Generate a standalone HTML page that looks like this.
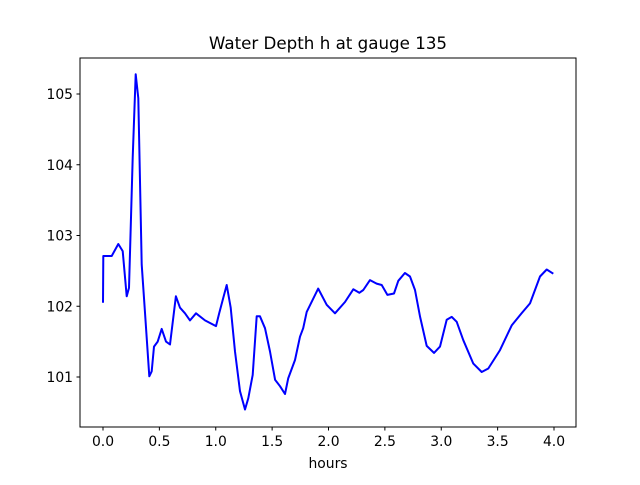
<!DOCTYPE html>
<html><head><meta charset="utf-8"><style>
body{margin:0;background:#fff;}
svg text{font-family:"DejaVu Sans","Liberation Sans",sans-serif;fill:#000;}
</style></head><body>
<svg id="chart" width="640" height="480" viewBox="0 0 640 480" xmlns="http://www.w3.org/2000/svg">
<rect x="0" y="0" width="640" height="480" fill="#fff"/>
<text x="328" y="49" font-size="16.7" text-anchor="middle">Water Depth h at gauge 135</text>
<g id="plot"></g>
<rect x="80" y="58" width="496" height="369" fill="none" stroke="#000" stroke-width="1"/>
<text x="328" y="468" font-size="13.9" text-anchor="middle">hours</text>
</svg>
<script>
const hours=[0,0.003,0.077,0.136,0.175,0.21,0.231,0.263,0.29,0.313,0.343,0.372,0.411,0.432,0.452,0.485,0.521,0.559,0.594,0.647,0.683,0.727,0.772,0.825,0.905,1.002,1.031,1.067,1.097,1.133,1.171,1.215,1.259,1.289,1.328,1.363,1.392,1.437,1.481,1.526,1.570,1.614,1.643,1.703,1.747,1.776,1.807,1.909,1.984,2.058,2.146,2.22,2.273,2.309,2.368,2.427,2.472,2.522,2.581,2.619,2.678,2.723,2.767,2.812,2.871,2.936,2.989,3.048,3.093,3.137,3.196,3.284,3.359,3.417,3.521,3.625,3.713,3.787,3.876,3.935,3.994];
const depth=[102.05,102.71,102.71,102.88,102.78,102.14,102.26,104.10,105.28,104.94,102.59,101.93,101.01,101.08,101.43,101.50,101.68,101.50,101.46,102.14,101.98,101.90,101.80,101.90,101.80,101.72,101.90,102.12,102.30,101.98,101.36,100.80,100.54,100.70,101.03,101.86,101.86,101.69,101.36,100.96,100.87,100.76,100.98,101.24,101.57,101.69,101.92,102.25,102.02,101.90,102.06,102.24,102.19,102.23,102.37,102.32,102.30,102.16,102.18,102.36,102.47,102.42,102.23,101.85,101.44,101.34,101.43,101.81,101.85,101.78,101.52,101.19,101.07,101.12,101.38,101.73,101.90,102.04,102.42,102.52,102.46];
const xTicks=[0,0.5,1,1.5,2,2.5,3,3.5,4];
const xTickLabels=["0.0","0.5","1.0","1.5","2.0","2.5","3.0","3.5","4.0"];
const yTicks=[101,102,103,104,105];
const yTickLabels=["101","102","103","104","105"];
const NS="http://www.w3.org/2000/svg";
function xs(v){return 103+v*112.75;}
function ys(v){return 94+(105-v)*70.75;}
const g=document.getElementById('plot');
xTicks.forEach((t,i)=>{
  const l=document.createElementNS(NS,'line');
  l.setAttribute('x1',xs(t));l.setAttribute('x2',xs(t));l.setAttribute('y1',427);l.setAttribute('y2',430.5);
  l.setAttribute('stroke','#000');
  
  
  g.appendChild(l);
  const tx=document.createElementNS(NS,'text');
  tx.setAttribute('x',xs(t));tx.setAttribute('y',446);tx.setAttribute('font-size','13.9');tx.setAttribute('text-anchor','middle');
  tx.textContent=xTickLabels[i];
  
  
  g.appendChild(tx);
});
yTicks.forEach((t,i)=>{
  const l=document.createElementNS(NS,'line');
  l.setAttribute('x1',76.5);l.setAttribute('x2',80);l.setAttribute('y1',ys(t));l.setAttribute('y2',ys(t));
  l.setAttribute('stroke','#000');
  
  
  g.appendChild(l);
  const tx=document.createElementNS(NS,'text');
  tx.setAttribute('x',73);tx.setAttribute('y',ys(t)+5);tx.setAttribute('font-size','13.9');tx.setAttribute('text-anchor','end');
  tx.textContent=yTickLabels[i];
  
  
  g.appendChild(tx);
});
const p=document.createElementNS(NS,'polyline');
p.setAttribute('points',hours.map((h,i)=>xs(h).toFixed(1)+','+ys(depth[i]).toFixed(1)).join(' '));
p.setAttribute('fill','none');p.setAttribute('stroke','#0000ff');p.setAttribute('stroke-width','2');p.setAttribute('stroke-linejoin','round');


g.appendChild(p);
</script>
</body></html>
